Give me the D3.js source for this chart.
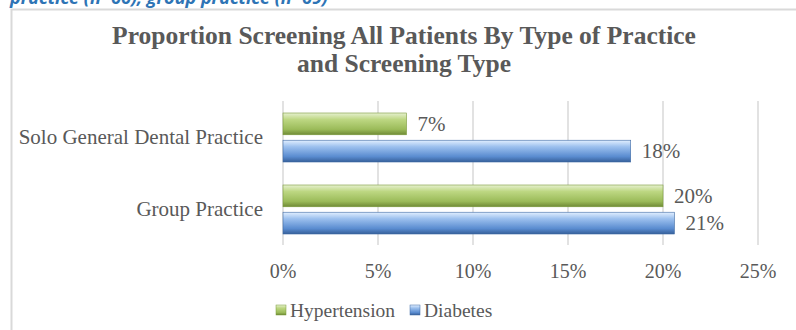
<!DOCTYPE html>
<html>
<head>
<meta charset="utf-8">
<script src="https://cdn.jsdelivr.net/npm/d3@7"></script>
<style>
  body { margin: 0; background: #fff; }
  text { font-family: "Liberation Serif", serif; fill: #595959; }
</style>
</head>
<body>
<script>
// data
const categories = ['Solo General Dental Practice', 'Group Practice'];
const series = ['Hypertension', 'Diabetes'];
const hypertension = [6.5, 20.0];
const diabetes = [18.3, 20.6];
const barLabels = { Hypertension: ['7%', '20%'], Diabetes: ['18%', '21%'] };
const xTicks = [0, 5, 10, 15, 20, 25];

const W = 796, H = 330;
const svg = d3.select('body').append('svg').attr('width', W).attr('height', H);

const defs = svg.append('defs');
const grads = {
    Hypertension: [['0%', '#e6f0cf'], ['30%', '#bdd782'], ['75%', '#9bbb59'], ['100%', '#6f8a36']],
    Diabetes: [['0%', '#e2efff'], ['30%', '#9cc0ee'], ['75%', '#5a8cd0'], ['100%', '#37609a']],
};
Object.keys(grads).forEach((k) => {
    defs.append('linearGradient')
        .attr('id', 'g-' + k)
        .attr('x1', 0).attr('y1', 0).attr('x2', 0).attr('y2', 1)
        .selectAll('stop')
        .data(grads[k])
        .join('stop')
        .attr('offset', (d) => d[0])
        .attr('stop-color', (d) => d[1]);
});

// caption cut off at the top
svg.append('text')
    .attr('x', 10).attr('y', 4)
    .style('font-family', '"Open Sans", sans-serif')
    .style('font-style', 'italic')
    .style('font-weight', 'bold')
    .style('font-size', '18px')
    .style('fill', '#2e74b5')
    .text('practice (n=66), group practice (n=69)');

// chart frame
svg.append('path')
    .attr('d', 'M11.5,' + H + 'V9.5H' + W)
    .attr('fill', 'none').attr('stroke', '#d9d9d9').attr('stroke-width', 2);

// title
const title = svg.append('text')
    .attr('text-anchor', 'middle')
    .style('font-weight', 'bold')
    .style('font-size', '25.5px');
title.append('tspan').attr('x', 404).attr('y', 44).text('Proportion Screening All Patients By Type of Practice');
title.append('tspan').attr('x', 404).attr('y', 72).text('and Screening Type');

const margin = { left: 283, right: 38, top: 101, bottom: 85 };
const x = d3.scaleLinear().domain([0, 25]).range([margin.left, margin.left + 475]);
const y = d3.scaleBand().domain(categories).range([margin.top, H - margin.bottom]);
const ySub = d3.scaleBand().domain(series).range([12, y.bandwidth() - 11]).paddingInner(0.2);

// gridlines
svg.append('g')
    .selectAll('line')
    .data(xTicks)
    .join('line')
    .attr('x1', (d) => x(d)).attr('x2', (d) => x(d))
    .attr('y1', margin.top).attr('y2', H - margin.bottom)
    .attr('stroke', '#d9d9d9').attr('stroke-width', 1.5);

// x tick labels
svg.append('g')
    .selectAll('text')
    .data(xTicks)
    .join('text')
    .attr('x', (d) => x(d))
    .attr('y', 278)
    .attr('text-anchor', 'middle')
    .style('font-size', '20px')
    .text((d) => d + '%');

// category labels
svg.append('g')
    .selectAll('text')
    .data(categories)
    .join('text')
    .attr('x', 263)
    .attr('y', (d) => y(d) + y.bandwidth() / 2)
    .attr('dy', '0.35em')
    .attr('text-anchor', 'end')
    .style('font-size', '21px')
    .text((d) => d);

// bars
const rows = [];
categories.forEach((c, i) => {
    rows.push({ cat: c, s: 'Hypertension', v: hypertension[i], label: barLabels.Hypertension[i] });
    rows.push({ cat: c, s: 'Diabetes', v: diabetes[i], label: barLabels.Diabetes[i] });
});

const bars = svg.append('g').selectAll('g').data(rows).join('g')
    .attr('transform', (d) => 'translate(0,' + (y(d.cat) + ySub(d.s)) + ')');

bars.append('rect')
    .attr('x', x(0))
    .attr('width', (d) => x(d.v) - x(0))
    .attr('height', ySub.bandwidth())
    .attr('fill', (d) => 'url(#g-' + d.s + ')')
    .attr('stroke', (d) => (d.s === 'Hypertension' ? '#7a9a3a' : '#3f6aa3'))
    .attr('stroke-width', 0.6);

bars.append('text')
    .attr('x', (d) => x(d.v) + 11)
    .attr('y', ySub.bandwidth() / 2)
    .attr('dy', '0.35em')
    .style('font-size', '21px')
    .text((d) => d.label);

// legend
const legend = svg.append('g').attr('transform', 'translate(276,305)');
const legendX = [0, 134];
series.forEach((s, i) => {
    const g = legend.append('g').attr('transform', 'translate(' + legendX[i] + ',0)');
    g.append('rect').attr('width', 10).attr('height', 10)
        .attr('fill', 'url(#g-' + s + ')')
        .attr('stroke', s === 'Hypertension' ? '#7a9a3a' : '#3f6aa3').attr('stroke-width', 0.5);
    g.append('text').attr('x', 14).attr('y', 11.5).style('font-size', '19.5px').text(s);
});
</script>
</body>
</html>
